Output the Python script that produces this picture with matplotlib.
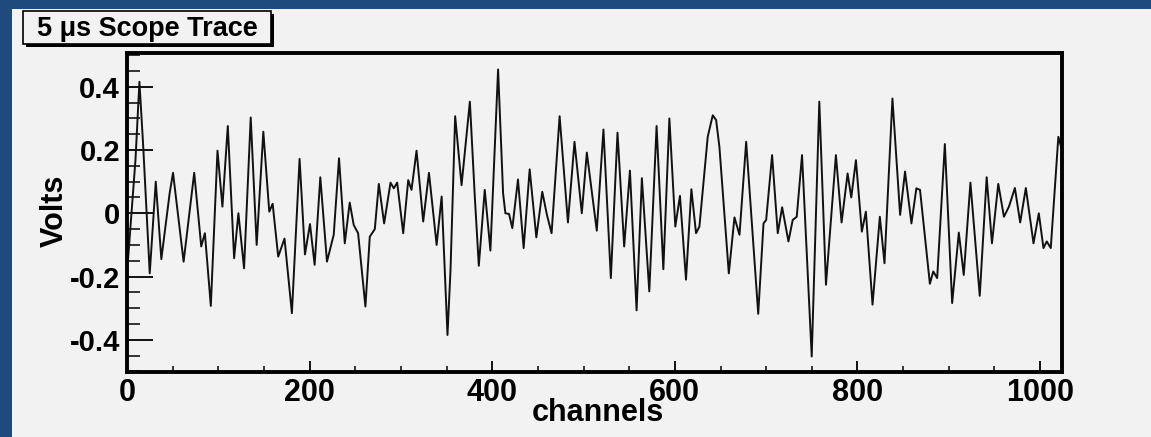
import matplotlib
matplotlib.use("Agg")
import matplotlib.pyplot as plt
from matplotlib.patches import Rectangle
from matplotlib.ticker import MultipleLocator

plt.rcParams['font.family'] = ['Liberation Sans', 'DejaVu Sans']
plt.rcParams['font.weight'] = 'bold'

# ---- data (channel, volts) ----
channels = [0, 9.3, 13.6, 17.6, 24.9, 31.5, 37.6, 46.7, 50.4, 62, 73.6, 81.3, 85.3, 91.8,
            99.1, 104.5, 110.4, 117.3, 122, 128.2, 135.5, 142, 149.3, 155.8, 159.5, 165.6,
            172.5, 180.6, 189, 194.9, 200.4, 205.5, 211.7, 219, 222.7, 226.4, 232.2, 238.5,
            243.9, 248.3, 253.1, 261.1, 265.9, 271.4, 275.8, 281.6, 288.6, 292.2, 295.9,
            302.5, 308, 311.6, 317.1, 324.4, 330.7, 339.1, 344.6, 351, 354.3, 359.4, 366.4,
            375.5, 380.9, 385.3, 391.8, 398, 406.4, 411.9, 414.4, 418.4, 422, 428.2, 434.4,
            441, 448.3, 454.8, 459.9, 465, 473.8, 482.9, 490.1, 498.1, 503.6, 514.5, 521.8,
            529.9, 537.2, 544.5, 550.8, 558.1, 563.9, 572, 580, 587.4, 594, 600.5, 605.6,
            612.2, 618.1, 623.2, 626.9, 636, 641.5, 645.2, 648.8, 659.1, 665.3, 670.8, 678.1,
            691.3, 697.1, 700, 706.5, 712.7, 717.5, 724.4, 729.1, 733.5, 739.3, 749.9, 758.2,
            765.5, 776.4, 782.6, 789.2, 793.2, 798.3, 804.8, 809.2, 816.5, 824.5, 829.6,
            838.3, 846.7, 852.1, 859.1, 864.5, 868.5, 879.3, 883, 887.3, 895.7, 903.7, 911,
            916.4, 923.7, 933.9, 941.5, 947.3, 954.2, 960.4, 965.9, 972.4, 978.2, 984.4,
            992.8, 998.6, 1003.7, 1007.3, 1011.7, 1020, 1023]
volts = [-0.19, 0.17, 0.416, 0.22, -0.19, 0.10, -0.145, 0.063, 0.128, -0.153, 0.128, -0.105,
         -0.063, -0.293, 0.198, 0.021, 0.276, -0.142, 0.0, -0.174, 0.303, -0.1, 0.258, 0.005,
         0.03, -0.137, -0.08, -0.316, 0.172, -0.13, -0.034, -0.163, 0.114, -0.153, -0.11,
         -0.068, 0.174, -0.095, 0.034, -0.037, -0.063, -0.295, -0.074, -0.05, 0.093, -0.032,
         0.097, 0.079, 0.097, -0.063, 0.105, 0.074, 0.198, -0.026, 0.128, -0.1, 0.053, -0.385,
         -0.18, 0.307, 0.089, 0.353, 0.053, -0.166, 0.074, -0.118, 0.455, 0.063, 0.0, -0.002,
         -0.047, 0.107, -0.11, 0.139, -0.076, 0.068, -0.005, -0.063, 0.307, -0.029, 0.226,
         0.0, 0.192, -0.055, 0.265, -0.205, 0.255, -0.105, 0.135, -0.307, 0.111, -0.247,
         0.276, -0.177, 0.3, -0.042, 0.055, -0.21, 0.076, -0.063, -0.042, 0.242, 0.31, 0.295,
         0.21, -0.19, -0.013, -0.068, 0.226, -0.318, -0.032, -0.021, 0.184, -0.063, 0.019,
         -0.089, -0.021, -0.011, 0.184, -0.453, 0.353, -0.226, 0.184, -0.029, 0.126, 0.05,
         0.168, -0.058, 0.005, -0.289, -0.011, -0.158, 0.363, -0.005, 0.132, -0.032, 0.079,
         0.074, -0.223, -0.184, -0.205, 0.219, -0.284, -0.061, -0.195, 0.097, -0.261, 0.114,
         -0.095, 0.093, -0.011, 0.021, 0.08, -0.029, 0.08, -0.095, 0.0, -0.11, -0.089, -0.11,
         0.242, 0.21]
x_ticks = [0, 200, 400, 600, 800, 1000]
y_ticks = [-0.4, -0.2, 0, 0.2, 0.4]
y_tick_labels = ['-0.4', '-0.2', '0', '0.2', '0.4']
title = '5 \u03bcs Scope Trace'
x_title = 'channels'
y_title = 'Volts'

W, H = 1151, 437
BG = '#f2f2f2'
BLUE = '#1f4a7e'

fig = plt.figure(figsize=(W / 100, H / 100), dpi=100, facecolor=BG)

def px(x0, y0, w, h):
    return (x0 / W, 1 - (y0 + h) / H, w / W, h / H)

# blue border strips (left and top)
for (x0, y0, w, h) in [(0, 0, 12, H), (0, 0, W, 9)]:
    r = px(x0, y0, w, h)
    fig.patches.append(Rectangle((r[0], r[1]), r[2], r[3], transform=fig.transFigure,
                                 facecolor=BLUE, edgecolor='none', zorder=0))

# axes
L, R, T, B = 127, 1062, 53, 372
ax = fig.add_axes(px(L, T, R - L, B - T))
ax.set_facecolor(BG)
ax.plot(channels, volts, color='#111111', lw=1.4)
ax.set_xlim(0, 1024)
ax.set_ylim(-0.502, 0.507)

ax.set_xticks(x_ticks)
ax.set_xticklabels([str(v) for v in x_ticks])
ax.set_yticks(y_ticks)
ax.set_yticklabels(y_tick_labels)
ax.xaxis.set_minor_locator(MultipleLocator(50))
ax.yaxis.set_minor_locator(MultipleLocator(0.05))
ax.tick_params(axis='y', which='major', direction='in', length=18.5, width=1.3,
               labelsize=21, pad=5, right=False)
ax.tick_params(axis='y', which='minor', direction='in', length=9.5, width=1.1, right=False)
ax.tick_params(axis='x', which='major', direction='in', length=8, width=1.3,
               labelsize=22, pad=4, top=False)
ax.tick_params(axis='x', which='minor', direction='in', length=4.5, width=1.1, top=False)
for lab in ax.get_xticklabels() + ax.get_yticklabels():
    lab.set_fontweight('bold')
for s in ax.spines.values():
    s.set_linewidth(2.8)

ax.set_xlabel(x_title, fontsize=22, fontweight='bold', va='center')
ax.xaxis.set_label_coords(0.504, (B - 413) / (B - T))
ax.set_ylabel(y_title, fontsize=22, fontweight='bold', va='center')
ax.yaxis.set_label_coords((55 - L) / (R - L), 0.505)

# title box with shadow
sx, sy, sw, sh = 23, 11, 248, 33
r = px(sx + 3, sy + 3, sw, sh)
fig.patches.append(Rectangle((r[0], r[1]), r[2], r[3], transform=fig.transFigure,
                             facecolor='black', edgecolor='none', zorder=5))
r = px(sx, sy, sw, sh)
fig.patches.append(Rectangle((r[0], r[1]), r[2], r[3], transform=fig.transFigure,
                             facecolor=BG, edgecolor='black', lw=1.2, zorder=6))
fig.text((sx + sw / 2) / W, 1 - (sy + sh / 2 + 1) / H, title, ha='center', va='center',
         fontsize=19.5, fontweight='bold', zorder=7)

fig.savefig('out.png', dpi=100, facecolor=BG)
